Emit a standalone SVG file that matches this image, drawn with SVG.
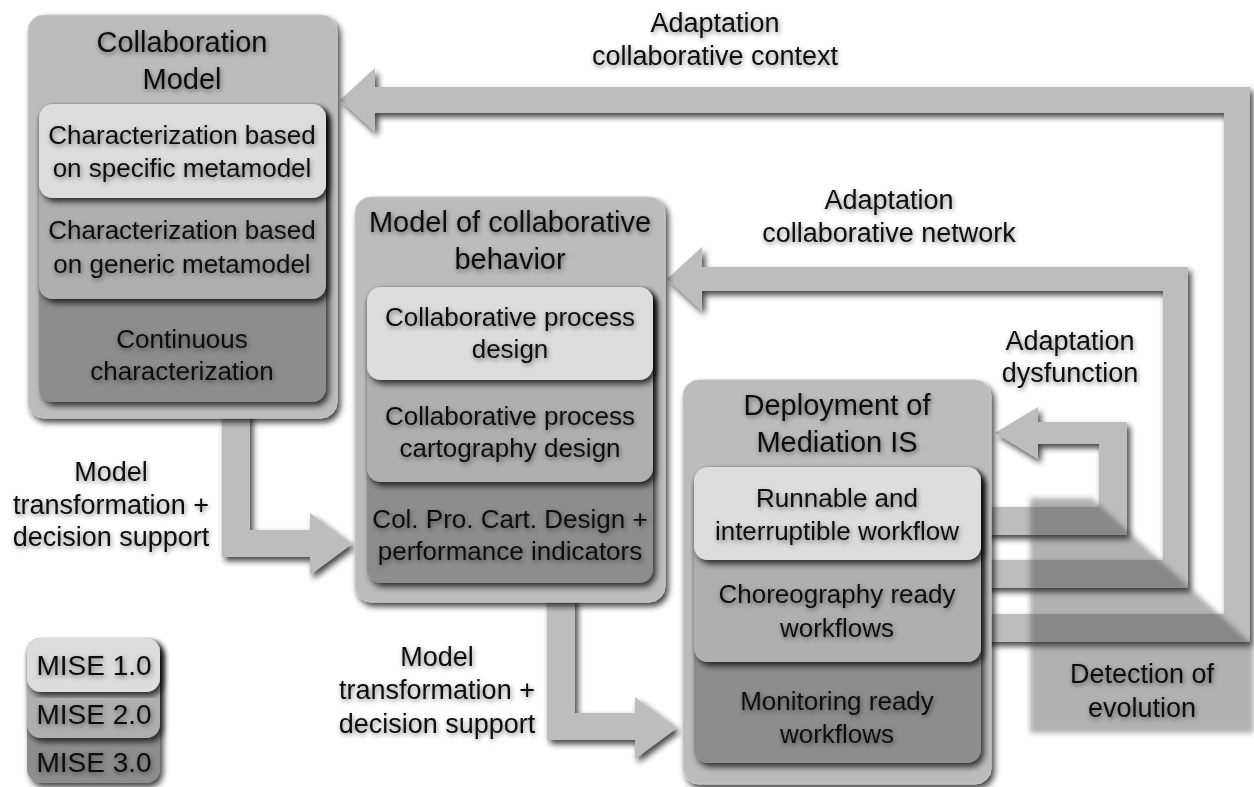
<svg xmlns="http://www.w3.org/2000/svg" width="1254" height="787" viewBox="0 0 1254 787">
<defs>
<filter id="sh" x="-5%" y="-5%" width="115%" height="115%">
<feGaussianBlur in="SourceAlpha" stdDeviation="3"/>
<feOffset dx="3" dy="4"/>
<feComponentTransfer><feFuncA type="linear" slope="0.75"/></feComponentTransfer>
<feMerge><feMergeNode/><feMergeNode in="SourceGraphic"/></feMerge>
</filter>
<filter id="ts" x="-10%" y="-30%" width="120%" height="160%">
<feGaussianBlur in="SourceAlpha" stdDeviation="2.5"/>
<feOffset dx="1" dy="2"/>
<feComponentTransfer><feFuncA type="linear" slope="0.5"/></feComponentTransfer>
<feMerge><feMergeNode/><feMergeNode in="SourceGraphic"/></feMerge>
</filter>
<filter id="soft" x="-5%" y="-5%" width="110%" height="110%">
<feGaussianBlur stdDeviation="2.5"/>
</filter>
</defs>
<style>
.outer{fill:#bcbcbc;stroke:#c9c9c9;stroke-width:1;filter:url(#sh)}
.l1{fill:#dddddd;filter:url(#sh)}
.l2{fill:#afafaf;filter:url(#sh)}
.l3{fill:#8d8d8d;filter:url(#sh)}
.arrow{fill:#bdbdbd;filter:url(#sh)}
text{font-family:"Liberation Sans",Arial,sans-serif;fill:#111;text-anchor:middle;filter:url(#ts)}
.title{font-size:29px}
.inner{font-size:26px}
.lab{font-size:27px}
.leg{font-size:28px}
</style>
<rect width="1254" height="787" fill="#ffffff"/>

<g id="connectors">
<polygon class="arrow" points="340,100 375,68 375,87 1250,87 1250,642 985,642 985,614 1224,614 1224,113 375,113 375,132"/>
<polygon class="arrow" points="667,279 702,247 702,267 1188,267 1188,588 985,588 985,560 1163,560 1163,291 702,291 702,311"/>
<polygon class="arrow" points="995,433 1038,407 1038,422 1127,422 1127,535 985,535 985,507 1099,507 1099,444 1038,444 1038,459"/>
<polygon class="arrow" points="222,412 250,412 250,530 310,530 310,513 352,544 310,575 310,557 222,557"/>
<polygon class="arrow" points="547,596 575,596 575,713 635,713 635,697 677,728 635,759 635,740 547,740"/>
</g>

<g id="detection-of-evolution">
<polygon points="1030,498 1092,498 1254,646 1254,733 1030,733" fill="rgb(45,45,45)" fill-opacity="0.38" filter="url(#soft)"/>
<text class="lab" x="1142" y="683">Detection of</text>
<text class="lab" x="1142" y="717">evolution</text>
</g>

<g id="labels">
<text class="lab" x="715" y="32">Adaptation</text>
<text class="lab" x="715" y="65">collaborative context</text>
<text class="lab" x="889" y="209">Adaptation</text>
<text class="lab" x="889" y="242">collaborative network</text>
<text class="lab" x="1070" y="350">Adaptation</text>
<text class="lab" x="1070" y="382">dysfunction</text>
<text class="lab" x="111" y="481">Model</text>
<text class="lab" x="111" y="514">transformation +</text>
<text class="lab" x="111" y="546">decision support</text>
<text class="lab" x="437" y="666">Model</text>
<text class="lab" x="437" y="699">transformation +</text>
<text class="lab" x="437" y="733">decision support</text>
</g>

<g id="collaboration-model">
<rect class="outer" x="28" y="15" width="309" height="403" rx="16"/>
<rect class="l3" x="39" y="104" width="287" height="298" rx="14"/>
<rect class="l2" x="39" y="104" width="287" height="195" rx="14"/>
<rect class="l1" x="39" y="104" width="287" height="94" rx="14"/>
<text class="title" x="182" y="52">Collaboration</text>
<text class="title" x="182" y="89">Model</text>
<text class="inner" x="182" y="144">Characterization based</text>
<text class="inner" x="182" y="177">on specific metamodel</text>
<text class="inner" x="182" y="239">Characterization based</text>
<text class="inner" x="182" y="273">on generic metamodel</text>
<text class="inner" x="182" y="348">Continuous</text>
<text class="inner" x="182" y="380">characterization</text>
</g>

<g id="collaborative-behavior">
<rect class="outer" x="355" y="197" width="310" height="405" rx="16"/>
<rect class="l3" x="367" y="287" width="286" height="296" rx="14"/>
<rect class="l2" x="367" y="287" width="286" height="195" rx="14"/>
<rect class="l1" x="367" y="287" width="286" height="93" rx="14"/>
<text class="title" x="510" y="232">Model of collaborative</text>
<text class="title" x="510" y="269">behavior</text>
<text class="inner" x="510" y="326">Collaborative process</text>
<text class="inner" x="510" y="358">design</text>
<text class="inner" x="510" y="425">Collaborative process</text>
<text class="inner" x="510" y="457">cartography design</text>
<text class="inner" x="510" y="528">Col. Pro. Cart. Design +</text>
<text class="inner" x="510" y="560">performance indicators</text>
</g>

<g id="deployment-mediation-is">
<rect class="outer" x="683" y="380" width="308" height="404" rx="16"/>
<rect class="l3" x="694" y="467" width="287" height="296" rx="14"/>
<rect class="l2" x="694" y="467" width="287" height="195" rx="14"/>
<rect class="l1" x="694" y="467" width="287" height="93" rx="14"/>
<text class="title" x="837" y="415">Deployment of</text>
<text class="title" x="837" y="452">Mediation IS</text>
<text class="inner" x="837" y="507">Runnable and</text>
<text class="inner" x="837" y="540">interruptible workflow</text>
<text class="inner" x="837" y="603">Choreography ready</text>
<text class="inner" x="837" y="637">workflows</text>
<text class="inner" x="837" y="710">Monitoring ready</text>
<text class="inner" x="837" y="743">workflows</text>
</g>

<g id="legend">
<rect class="l3" x="27" y="638" width="133" height="145" rx="14"/>
<rect class="l2" x="27" y="638" width="133" height="100" rx="14"/>
<rect class="l1" x="27" y="638" width="133" height="54" rx="14"/>
<text class="leg" x="94" y="675">MISE 1.0</text>
<text class="leg" x="94" y="724">MISE 2.0</text>
<text class="leg" x="94" y="772">MISE 3.0</text>
</g>
</svg>
